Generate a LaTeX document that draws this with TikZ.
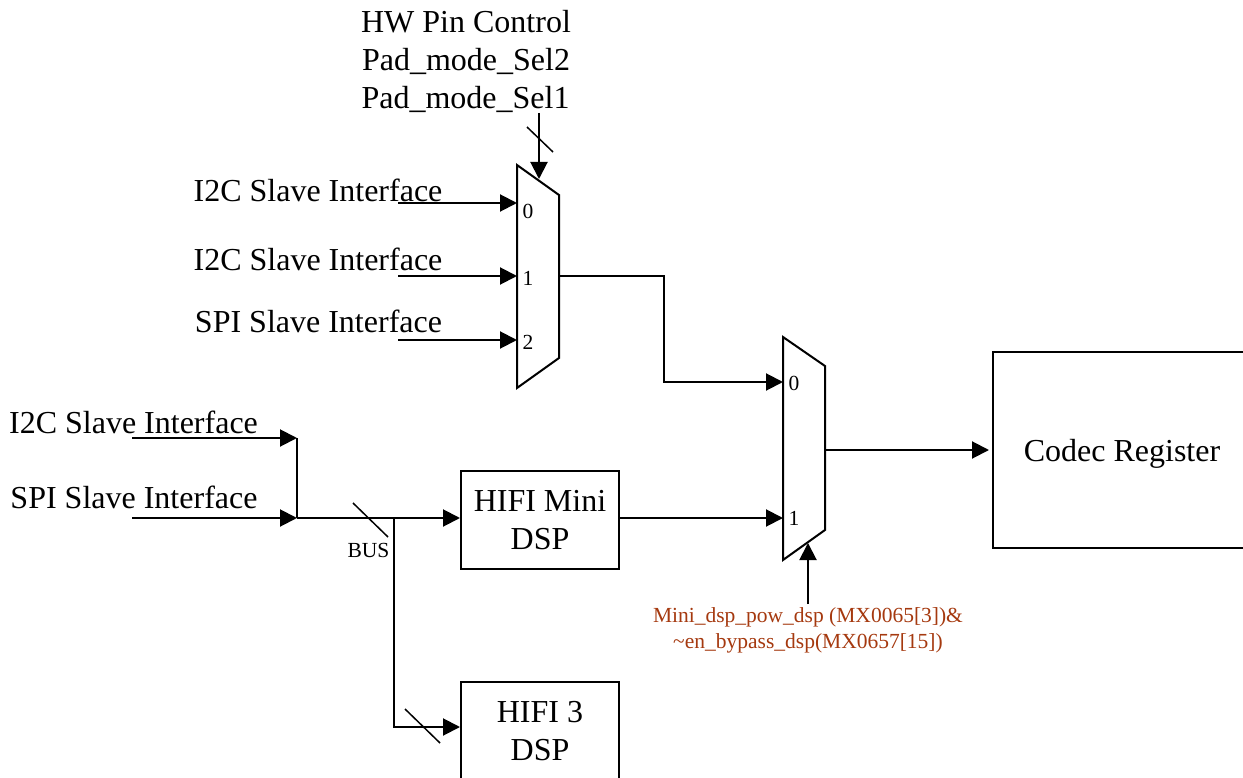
\documentclass[tikz,border=0pt]{standalone}
\usepackage{fontspec}
\setmainfont{Liberation Serif}
\usetikzlibrary{arrows.meta}
\definecolor{sellabel}{HTML}{A5390F}
\tikzset{
  wire/.style={line width=2pt},
  sig/.style={wire,-{Triangle[length=17pt,width=17pt]}},
  bigtext/.style={font=\fontsize{32}{38}\selectfont,inner sep=0pt,align=center},
  smalltext/.style={font=\fontsize{21.5}{26}\selectfont,inner sep=0pt,align=center},
  block/.style={bigtext,draw,line width=2pt,minimum width=158pt,minimum height=98pt}
}
\begin{document}
\begin{tikzpicture}[x=1pt,y=-1pt,line join=miter]
                \useasboundingbox (0,0) rectangle (1243,778);
                % first mux
                \coordinate (muxatl) at (517,165);
                \coordinate (muxatr) at (559,195);
                \coordinate (muxabr) at (559,358);
                \coordinate (muxabl) at (517,388);
                \coordinate (muxazero) at (517,203);
                \coordinate (muxaone) at (517,276);
                \coordinate (muxatwo) at (517,340);
                \coordinate (muxasel) at (539,179);
                \coordinate (muxaout) at (559,276);
                \draw [wire] (muxatl) -- (muxatr) -- (muxabr) -- (muxabl) -- cycle;
                \node [smalltext] (azero) at (528,211) {0};
                \node [smalltext] (aone) at (528,278) {1};
                \node [smalltext] (atwo) at (528,342) {2};
                % second mux
                \coordinate (muxbtl) at (783,337);
                \coordinate (muxbtr) at (825,366);
                \coordinate (muxbbr) at (825,530);
                \coordinate (muxbbl) at (783,560);
                \coordinate (muxbzero) at (783,382);
                \coordinate (muxbone) at (783,518);
                \coordinate (muxbsel) at (808,543);
                \coordinate (muxbout) at (825,450);
                \draw [wire] (muxbtl) -- (muxbtr) -- (muxbbr) -- (muxbbl) -- cycle;
                \node [smalltext] (bzero) at (794,383) {0};
                \node [smalltext] (bone) at (794,518) {1};
                % blocks
                \node [block] (mini) at (540,520) {HIFI Mini\\DSP};
                \node [block] (three) at (540,731) {HIFI 3\\DSP};
                \node [block,text depth=0pt,minimum width=258pt,minimum height=196pt] (codec) at (1122,450) {Codec Register};
                % labels
                \node [bigtext] (hwpin) at (466,22) {HW Pin Control};
                \node [bigtext] (padtwo) at (466,61) {Pad\_mode\_Sel2};
                \node [bigtext] (padone) at (465.5,99) {Pad\_mode\_Sel1};
                \node [bigtext] (ifa) at (318,190) {I2C Slave Interface};
                \node [bigtext] (ifb) at (318,259) {I2C Slave Interface};
                \node [bigtext] (ifc) at (318.5,321) {SPI Slave Interface};
                \node [bigtext] (ifd) at (133.5,422) {I2C Slave Interface};
                \node [bigtext] (ife) at (134,497) {SPI Slave Interface};
                \node [smalltext] (bus) at (368.5,550) {BUS};
                \node [smalltext,text=sellabel] (sel) at (808,630) {Mini\_dsp\_pow\_dsp (MX0065[3])\&\\\char`~en\_bypass\_dsp(MX0657[15])};
                % free ends and corners
                \coordinate (ina) at (398,203);
                \coordinate (inb) at (398,276);
                \coordinate (inc) at (398,340);
                \coordinate (ind) at (132,438);
                \coordinate (ine) at (132,518);
                \coordinate (joinup) at (297,438);
                \coordinate (joinlow) at (297,518);
                \coordinate (split) at (394,518);
                \coordinate (splitlow) at (394,727);
                \coordinate (bendup) at (664,276);
                \coordinate (bendlow) at (664,382);
                \coordinate (seltop) at (539,113);
                \coordinate (selfoot) at (808,604);
                % connectors
                \draw [sig] (ina) -- (muxazero);
                \draw [sig] (inb) -- (muxaone);
                \draw [sig] (inc) -- (muxatwo);
                \draw [sig] (seltop) -- (muxasel);
                \draw [sig] (ind) -- (joinup);
                \draw [sig] (ine) -- (joinlow);
                \draw [wire] (joinup) -- (joinlow);
                \draw [sig] (joinlow) -- (mini.west |- joinlow);
                \draw [sig] (split) -- (splitlow) -- (three.west |- splitlow);
                \draw [sig] (mini.east |- muxbone) -- (muxbone);
                \draw [sig] (muxaout) -- (bendup) -- (bendlow) -- (muxbzero);
                \draw [sig,shorten >=3pt] (muxbout) -- (codec.west);
                \draw [sig] (selfoot) -- (muxbsel);
                % bus marks
                \coordinate (marka) at (527,127);
                \coordinate (markb) at (553,152);
                \coordinate (markc) at (353,503);
                \coordinate (markd) at (388,537);
                \coordinate (marke) at (405,709);
                \coordinate (markf) at (440,743);
                \draw [line width=1.5pt] (marka) -- (markb);
                \draw [line width=1.5pt] (markc) -- (markd);
                \draw [line width=1.5pt] (marke) -- (markf);
\end{tikzpicture}
\end{document}
